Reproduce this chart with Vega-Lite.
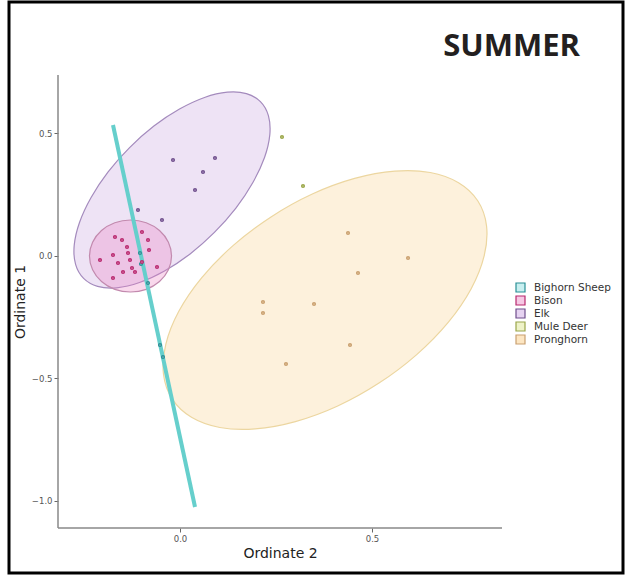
{
  "$schema": "https://vega.github.io/schema/vega-lite/v6.json",
  "width": 614,
  "height": 571,
  "autosize": {"type": "none"},
  "padding": {"left": 9, "top": 2, "right": 3, "bottom": 3},
  "background": "#ffffff",
  "title": {"text": "SUMMER", "orient": "top", "anchor": "end", "frame": "group", "font": "Open Sans", "fontSize": 31, "fontWeight": "bold", "color": "#231f20", "baseline": "alphabetic", "offset": 0, "dx": -43, "dy": 85},
  "datasets": {
    "ell": [
      {"sp": "Elk", "i": 1, "x": 0.2094, "y": 0.6282},
      {"sp": "Elk", "i": 2, "x": 0.2302, "y": 0.5710},
      {"sp": "Elk", "i": 3, "x": 0.2339, "y": 0.4935},
      {"sp": "Elk", "i": 4, "x": 0.2201, "y": 0.4000},
      {"sp": "Elk", "i": 5, "x": 0.1898, "y": 0.2980},
      {"sp": "Elk", "i": 6, "x": 0.1456, "y": 0.1935},
      {"sp": "Elk", "i": 7, "x": 0.0896, "y": 0.0943},
      {"sp": "Elk", "i": 8, "x": 0.0263, "y": 0.0065},
      {"sp": "Elk", "i": 9, "x": -0.0404, "y": -0.0629},
      {"sp": "Elk", "i": 10, "x": -0.1055, "y": -0.1102},
      {"sp": "Elk", "i": 11, "x": -0.1651, "y": -0.1318},
      {"sp": "Elk", "i": 12, "x": -0.2146, "y": -0.1261},
      {"sp": "Elk", "i": 13, "x": -0.2510, "y": -0.0935},
      {"sp": "Elk", "i": 14, "x": -0.2719, "y": -0.0363},
      {"sp": "Elk", "i": 15, "x": -0.2755, "y": 0.0412},
      {"sp": "Elk", "i": 16, "x": -0.2617, "y": 0.1347},
      {"sp": "Elk", "i": 17, "x": -0.2315, "y": 0.2367},
      {"sp": "Elk", "i": 18, "x": -0.1872, "y": 0.3412},
      {"sp": "Elk", "i": 19, "x": -0.1313, "y": 0.4404},
      {"sp": "Elk", "i": 20, "x": -0.0680, "y": 0.5282},
      {"sp": "Elk", "i": 21, "x": -0.0013, "y": 0.5976},
      {"sp": "Elk", "i": 22, "x": 0.0638, "y": 0.6449},
      {"sp": "Elk", "i": 23, "x": 0.1234, "y": 0.6665},
      {"sp": "Elk", "i": 24, "x": 0.1729, "y": 0.6608},
      {"sp": "Bison", "i": 1, "x": -0.0221, "y": -0.0020},
      {"sp": "Bison", "i": 2, "x": -0.0302, "y": 0.0543},
      {"sp": "Bison", "i": 3, "x": -0.0534, "y": 0.1020},
      {"sp": "Bison", "i": 4, "x": -0.0880, "y": 0.1339},
      {"sp": "Bison", "i": 5, "x": -0.1289, "y": 0.1449},
      {"sp": "Bison", "i": 6, "x": -0.1698, "y": 0.1339},
      {"sp": "Bison", "i": 7, "x": -0.2044, "y": 0.1020},
      {"sp": "Bison", "i": 8, "x": -0.2276, "y": 0.0543},
      {"sp": "Bison", "i": 9, "x": -0.2357, "y": -0.0020},
      {"sp": "Bison", "i": 10, "x": -0.2276, "y": -0.0584},
      {"sp": "Bison", "i": 11, "x": -0.2044, "y": -0.1061},
      {"sp": "Bison", "i": 12, "x": -0.1698, "y": -0.1380},
      {"sp": "Bison", "i": 13, "x": -0.1289, "y": -0.1490},
      {"sp": "Bison", "i": 14, "x": -0.0880, "y": -0.1380},
      {"sp": "Bison", "i": 15, "x": -0.0534, "y": -0.1061},
      {"sp": "Bison", "i": 16, "x": -0.0302, "y": -0.0584},
      {"sp": "Pronghorn", "i": 1, "x": 0.7753, "y": 0.2233},
      {"sp": "Pronghorn", "i": 2, "x": 0.7982, "y": 0.1216},
      {"sp": "Pronghorn", "i": 3, "x": 0.7922, "y": -0.0008},
      {"sp": "Pronghorn", "i": 4, "x": 0.7583, "y": -0.1355},
      {"sp": "Pronghorn", "i": 5, "x": 0.6984, "y": -0.2731},
      {"sp": "Pronghorn", "i": 6, "x": 0.6164, "y": -0.4045},
      {"sp": "Pronghorn", "i": 7, "x": 0.5182, "y": -0.5208},
      {"sp": "Pronghorn", "i": 8, "x": 0.4107, "y": -0.6143},
      {"sp": "Pronghorn", "i": 9, "x": 0.3005, "y": -0.6780},
      {"sp": "Pronghorn", "i": 10, "x": 0.1958, "y": -0.7078},
      {"sp": "Pronghorn", "i": 11, "x": 0.1036, "y": -0.7020},
      {"sp": "Pronghorn", "i": 12, "x": 0.0299, "y": -0.6604},
      {"sp": "Pronghorn", "i": 13, "x": -0.0201, "y": -0.5865},
      {"sp": "Pronghorn", "i": 14, "x": -0.0430, "y": -0.4849},
      {"sp": "Pronghorn", "i": 15, "x": -0.0370, "y": -0.3624},
      {"sp": "Pronghorn", "i": 16, "x": -0.0031, "y": -0.2278},
      {"sp": "Pronghorn", "i": 17, "x": 0.0568, "y": -0.0902},
      {"sp": "Pronghorn", "i": 18, "x": 0.1388, "y": 0.0412},
      {"sp": "Pronghorn", "i": 19, "x": 0.2370, "y": 0.1576},
      {"sp": "Pronghorn", "i": 20, "x": 0.3445, "y": 0.2510},
      {"sp": "Pronghorn", "i": 21, "x": 0.4547, "y": 0.3147},
      {"sp": "Pronghorn", "i": 22, "x": 0.5594, "y": 0.3445},
      {"sp": "Pronghorn", "i": 23, "x": 0.6516, "y": 0.3388},
      {"sp": "Pronghorn", "i": 24, "x": 0.7253, "y": 0.2971}
    ],
    "seg": [
      {"i": 0, "x": -0.1745, "y": 0.5327},
      {"i": 1, "x": 0.0391, "y": -1.0265}
    ],
    "axl": [
      {"x": -0.3177, "y": 0.7367, "x2": -0.3177, "y2": -1.1122},
      {"x": -0.3177, "y": -1.1122, "x2": 0.8385, "y2": -1.1122}
    ],
    "pts": [
      {"species": "Bighorn Sheep", "x": -0.1042, "y": 0.0102},
      {"species": "Bighorn Sheep", "x": -0.1016, "y": -0.0347},
      {"species": "Bighorn Sheep", "x": -0.0833, "y": -0.1122},
      {"species": "Bighorn Sheep", "x": -0.0521, "y": -0.3653},
      {"species": "Bighorn Sheep", "x": -0.0443, "y": -0.4143},
      {"species": "Bison", "x": -0.1693, "y": 0.0755},
      {"species": "Bison", "x": -0.1510, "y": 0.0633},
      {"species": "Bison", "x": -0.1380, "y": 0.0347},
      {"species": "Bison", "x": -0.1745, "y": 0.0020},
      {"species": "Bison", "x": -0.2083, "y": -0.0184},
      {"species": "Bison", "x": -0.1615, "y": -0.0306},
      {"species": "Bison", "x": -0.1302, "y": -0.0184},
      {"species": "Bison", "x": -0.1354, "y": 0.0102},
      {"species": "Bison", "x": -0.0990, "y": 0.0959},
      {"species": "Bison", "x": -0.0833, "y": 0.0633},
      {"species": "Bison", "x": -0.0807, "y": 0.0224},
      {"species": "Bison", "x": -0.0599, "y": -0.0469},
      {"species": "Bison", "x": -0.1250, "y": -0.0510},
      {"species": "Bison", "x": -0.1484, "y": -0.0673},
      {"species": "Bison", "x": -0.1172, "y": -0.0673},
      {"species": "Bison", "x": -0.1745, "y": -0.0918},
      {"species": "Bison", "x": -0.0990, "y": -0.0265},
      {"species": "Elk", "x": -0.1094, "y": 0.1857},
      {"species": "Elk", "x": -0.0469, "y": 0.1449},
      {"species": "Elk", "x": -0.0182, "y": 0.3898},
      {"species": "Elk", "x": 0.0599, "y": 0.3408},
      {"species": "Elk", "x": 0.0391, "y": 0.2673},
      {"species": "Elk", "x": 0.0911, "y": 0.3980},
      {"species": "Mule Deer", "x": 0.2656, "y": 0.4837},
      {"species": "Mule Deer", "x": 0.3203, "y": 0.2837},
      {"species": "Pronghorn", "x": 0.4375, "y": 0.0918},
      {"species": "Pronghorn", "x": 0.5938, "y": -0.0102},
      {"species": "Pronghorn", "x": 0.4635, "y": -0.0714},
      {"species": "Pronghorn", "x": 0.2161, "y": -0.1898},
      {"species": "Pronghorn", "x": 0.2161, "y": -0.2347},
      {"species": "Pronghorn", "x": 0.3490, "y": -0.1980},
      {"species": "Pronghorn", "x": 0.4427, "y": -0.3653},
      {"species": "Pronghorn", "x": 0.2760, "y": -0.4429}
    ]
  },
  "encoding": {
    "x": {
      "field": "x", "type": "quantitative",
      "scale": {"domain": [-0.4453, 1.1536], "nice": false, "zero": false},
      "axis": {"title": "Ordinate 2", "values": [0, 0.5], "format": ".1f", "domain": false, "grid": false, "offset": -45, "tickSize": 4, "tickColor": "#666666", "labelFont": "DejaVu Sans", "labelFontSize": 8.5, "labelColor": "#555555", "labelPadding": 2, "titleFont": "DejaVu Sans", "titleFontSize": 14, "titleFontWeight": "normal", "titleColor": "#222222", "titleX": 271, "titleY": 29, "titleBaseline": "alphabetic"}
    },
    "y": {
      "field": "y", "type": "quantitative",
      "scale": {"domain": [-1.2959, 1.0347], "nice": false, "zero": false},
      "axis": {"title": "Ordinate 1", "values": [-1, -0.5, 0, 0.5], "format": ".1f", "domain": false, "grid": false, "offset": -49, "tickSize": 4, "tickColor": "#666666", "labelFont": "DejaVu Sans", "labelFontSize": 8.5, "labelColor": "#555555", "labelPadding": 2, "titleFont": "DejaVu Sans", "titleFontSize": 14, "titleFontWeight": "normal", "titleColor": "#222222", "titleX": -34, "titleY": 299.5, "titleBaseline": "alphabetic", "titleAngle": -90}
    }
  },
  "layer": [
    {
      "data": {"name": "ell"},
      "transform": [{"filter": {"field": "sp", "equal": "Elk"}}],
      "mark": {"type": "line", "interpolate": "cardinal-closed", "fill": "#c7a2dd", "fillOpacity": 0.3, "stroke": "#a48bbd", "strokeWidth": 1.2},
      "encoding": {"order": {"field": "i", "type": "quantitative"}}
    },
    {
      "data": {"name": "ell"},
      "transform": [{"filter": {"field": "sp", "equal": "Pronghorn"}}],
      "mark": {"type": "line", "interpolate": "cardinal-closed", "fill": "#f9d08a", "fillOpacity": 0.3, "stroke": "#ecd6a0", "strokeWidth": 1.2},
      "encoding": {"order": {"field": "i", "type": "quantitative"}}
    },
    {
      "data": {"name": "ell"},
      "transform": [{"filter": {"field": "sp", "equal": "Bison"}}],
      "mark": {"type": "line", "interpolate": "cardinal-closed", "fill": "#ec7fc0", "fillOpacity": 0.3, "stroke": "#c28aae", "strokeWidth": 1.2},
      "encoding": {"order": {"field": "i", "type": "quantitative"}}
    },
    {
      "data": {"name": "seg"},
      "mark": {"type": "line", "stroke": "#66cfcc", "strokeWidth": 4},
      "encoding": {"order": {"field": "i", "type": "quantitative"}}
    },
    {
      "data": {"name": "axl"},
      "mark": {"type": "rule", "stroke": "#888888", "strokeWidth": 1.5},
      "encoding": {"x2": {"field": "x2"}, "y2": {"field": "y2"}}
    },
    {
      "data": {"name": "pts"},
      "mark": {"type": "circle", "size": 7, "strokeWidth": 1.5, "opacity": 1},
      "encoding": {
        "fill": {"field": "species", "type": "nominal",
          "scale": {"domain": ["Bighorn Sheep", "Bison", "Elk", "Mule Deer", "Pronghorn"], "range": ["#c8eff0", "#f6c8e4", "#e6d3f1", "#eef2c8", "#fde6c2"]},
          "legend": {"title": null, "orient": "none", "legendX": 506, "legendY": 280, "symbolType": "square", "symbolSize": 81, "symbolStrokeWidth": 1.2, "labelFont": "DejaVu Sans", "labelFontSize": 10.5, "labelColor": "#333333", "labelOffset": 8, "rowPadding": -2, "padding": 0}},
        "stroke": {"field": "species", "type": "nominal",
          "scale": {"domain": ["Bighorn Sheep", "Bison", "Elk", "Mule Deer", "Pronghorn"], "range": ["#2a8f95", "#b8286e", "#6f4f8c", "#9aa64a", "#c9a070"]},
          "legend": {"title": null, "orient": "none", "legendX": 506, "legendY": 280, "symbolType": "square", "symbolSize": 81, "symbolStrokeWidth": 1.2, "labelFont": "DejaVu Sans", "labelFontSize": 10.5, "labelColor": "#333333", "labelOffset": 8, "rowPadding": -2, "padding": 0}}
      }
    }
  ],
  "config": {
    "view": {"stroke": "#000000", "strokeWidth": 3},
    "axis": {"ticks": true}
  }
}
